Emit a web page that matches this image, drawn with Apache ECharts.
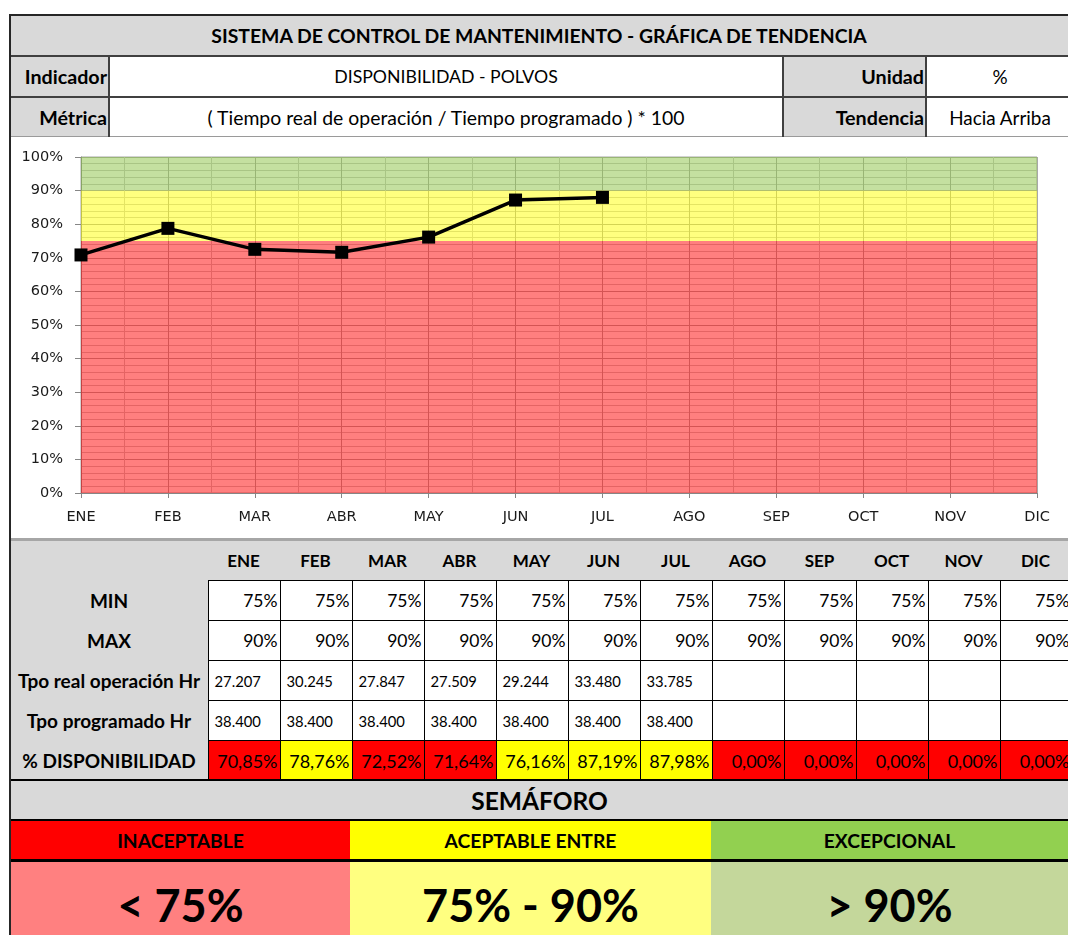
<!DOCTYPE html>
<html><head><meta charset="utf-8">
<script src="https://cdn.jsdelivr.net/npm/echarts@6/dist/echarts.min.js"></script>
<style>
body{margin:0;background:#fff;}
#page{position:relative;width:1068px;height:935px;overflow:hidden;background:#fff;font-family:Lato,'Liberation Sans',sans-serif;color:#000;}
.c{position:absolute;box-sizing:border-box;display:flex;align-items:center;white-space:nowrap;overflow:hidden;}
</style></head><body><div id="page"><div id="chart" style="position:absolute;left:0;top:137px;width:1068px;height:403px;"></div></div>
<script>
// ---- data ----
const months = ['ENE','FEB','MAR','ABR','MAY','JUN','JUL','AGO','SEP','OCT','NOV','DIC'];
const minPct = [75,75,75,75,75,75,75,75,75,75,75,75];
const maxPct = [90,90,90,90,90,90,90,90,90,90,90,90];
const tpoReal = [27207,30245,27847,27509,29244,33480,33785,null,null,null,null,null];
const tpoProg = [38400,38400,38400,38400,38400,38400,38400,null,null,null,null,null];
const disponibilidad = [70.85,78.76,72.52,71.64,76.16,87.19,87.98,0,0,0,0,0];
const yTickLabels = ['0%','10%','20%','30%','40%','50%','60%','70%','80%','90%','100%'];
const headerTexts = {
  title:'SISTEMA DE CONTROL DE MANTENIMIENTO - GRÁFICA DE TENDENCIA',
  indicadorLbl:'Indicador', indicador:'DISPONIBILIDAD - POLVOS',
  unidadLbl:'Unidad', unidad:'%',
  metricaLbl:'Métrica', metrica:'( Tiempo real de operación / Tiempo programado ) * 100',
  tendenciaLbl:'Tendencia', tendencia:'Hacia Arriba'
};
const rowLabels = ['MIN','MAX','Tpo real operación Hr','Tpo programado Hr','% DISPONIBILIDAD'];
const semaforoTitle = 'SEMÁFORO';
const semaforoNames = ['INACEPTABLE','ACEPTABLE ENTRE','EXCEPCIONAL'];
const semaforoRanges = ['< 75%','75% - 90%','> 90%'];

// ---- helpers ----
const page = document.getElementById('page');
function box(x,y,w,h,st,text){
  const d=document.createElement('div');d.className='c';
  Object.assign(d.style,{left:x+'px',top:y+'px',width:w+'px',height:h+'px'},st||{});
  if(text!==undefined&&text!==null) d.textContent=text;
  page.appendChild(d);return d;
}
function hl(x,y,w,t,col){box(x,y,w,t,{background:col});}
function vl(x,y,h,t,col){box(x,y,t,h,{background:col});}
const GRAY='#d9d9d9';
const fmtThousands = v => v==null?'':String(v).replace(/\B(?=(\d{3})+(?!\d))/g,'.');
const fmtPct = v => v.toFixed(2).replace('.',',')+'%';
function dispColor(v,lo,hi){return v<lo?'#ff0000':(v<=hi?'#ffff00':'#92d050');}

// ---- header block ----
box(10,15,1058,41,{background:GRAY,justifyContent:'center',fontWeight:'700',fontSize:'19.4px'},headerTexts.title);
const r2=[56,41],r3=[97,40];
[[r2,headerTexts.indicadorLbl,headerTexts.indicador,'17.7px',headerTexts.unidadLbl,headerTexts.unidad],
 [r3,headerTexts.metricaLbl,headerTexts.metrica,'19.4px',headerTexts.tendenciaLbl,headerTexts.tendencia]].forEach(([r,a,b,bs,c,d])=>{
  box(10,r[0],99,r[1],{background:GRAY,justifyContent:'flex-end',fontWeight:'700',fontSize:'19.7px',paddingRight:'2px'},a);
  box(109,r[0],674,r[1],{background:'#fff',justifyContent:'center',fontSize:bs},b);
  box(783,r[0],143,r[1],{background:GRAY,justifyContent:'flex-end',fontWeight:'700',fontSize:'19.7px',paddingRight:'2px'},c);
  box(926,r[0],142,r[1],{background:'#fff',justifyContent:'center',fontSize:'18.9px',paddingLeft:'6px'},d);
});
hl(9,14,1059,2,'#262626');
hl(9,55,1059,2,'#404040');
hl(9,96,1059,2,'#404040');
hl(9,136,1059,1,'#9a9a9a');
[108,782,925].forEach(x=>vl(x,56,81,2,'#404040'));

// ---- chart region bottom line ----
hl(9,538,1059,3,'#a6a6a6');

// ---- data table ----
const colX0=207.5, colW=72;
box(11,541,1057,239,{background:GRAY});
months.forEach((m,i)=>box(colX0+i*colW,541,colW,39,{justifyContent:'center',fontWeight:'700',fontSize:'17px'},m));
const rowY=[580,620,660,700,740];
rowLabels.forEach((l,j)=>box(11,rowY[j],196,40,{justifyContent:'center',fontWeight:'700',fontSize:'19px'},l));
months.forEach((m,i)=>{
  const x=colX0+i*colW;
  const cells=[
    {t:minPct[i]+'%',bg:'#fff',al:'flex-end',fs:'17.5px'},
    {t:maxPct[i]+'%',bg:'#fff',al:'flex-end',fs:'17.5px'},
    {t:fmtThousands(tpoReal[i]),bg:'#fff',al:'flex-start',fs:'14.8px'},
    {t:fmtThousands(tpoProg[i]),bg:'#fff',al:'flex-start',fs:'14.8px'},
    {t:fmtPct(disponibilidad[i]),bg:dispColor(disponibilidad[i],minPct[i],maxPct[i]),al:'flex-end',fs:'18px'}
  ];
  cells.forEach((c,j)=>box(x,rowY[j],colW+1,41,{background:c.bg,justifyContent:c.al,fontSize:c.fs,border:'1px solid #000',paddingRight:'2px',paddingLeft:'6px'},c.t));
});
hl(11,779,1057,2,'#000');

// ---- semaforo ----
box(11,781,1057,39,{background:GRAY,justifyContent:'center',fontWeight:'700',fontSize:'24.5px'},semaforoTitle);
hl(11,819,1057,2,'#000');
const semX=[11,350,711,1068];
const semTop=['#ff0000','#ffff00','#92d050'];
const semBot=['#ff8080','#ffff80','#c4d79b'];
semaforoNames.forEach((n,k)=>{
  box(semX[k],821,semX[k+1]-semX[k],38,{background:semTop[k],justifyContent:'center',fontWeight:'700',fontSize:'19.3px'},n);
  box(semX[k],862,semX[k+1]-semX[k],86,{background:semBot[k],justifyContent:'center',fontWeight:'700',fontSize:'45px'},semaforoRanges[k]);
});
hl(11,859,1057,3,'#000');

// left page border
vl(9,14,921,2,'#262626');

// ---- chart ----
const chart = echarts.init(document.getElementById('chart'),null,{renderer:'canvas'});
const lineData = months.map((m,i)=>tpoReal[i]==null?null:[i,disponibilidad[i]]).filter(d=>d);
const lo=minPct[0], hi=maxPct[0];
chart.setOption({
  animation:false,
  backgroundColor:'transparent',
  grid:{left:81,right:31,top:20,bottom:47,show:true,borderColor:'#a6a6a6',borderWidth:1,backgroundColor:'transparent'},
  xAxis:{type:'value',min:0,max:months.length-1,interval:1,
    axisLine:{show:true,lineStyle:{color:'#868686',width:1}},
    axisTick:{show:true,length:5,lineStyle:{color:'#868686'}},
    minorTick:{show:false,splitNumber:2},
    axisLabel:{margin:17,color:'#1a1a1a',fontFamily:'DejaVu Sans',fontSize:14.5,formatter:v=>months[v]||''},
    splitLine:{show:true,lineStyle:{color:'#a8a8a8',width:1}},
    minorSplitLine:{show:true,lineStyle:{color:'#c8c8c8',width:1}}},
  yAxis:{type:'value',min:0,max:100,interval:10,
    axisLine:{show:true,lineStyle:{color:'#868686',width:1}},
    axisTick:{show:true,length:6,lineStyle:{color:'#868686'}},
    minorTick:{show:false,splitNumber:5},
    axisLabel:{margin:18,color:'#1a1a1a',fontFamily:'DejaVu Sans',fontSize:14.5,formatter:v=>yTickLabels[Math.round(v/10)]},
    splitLine:{show:true,lineStyle:{color:'#a8a8a8',width:1}},
    minorSplitLine:{show:true,lineStyle:{color:'#c8c8c8',width:1}}},
  series:[
    {type:'line',data:[],z:1,silent:true,
     markArea:{silent:true,data:[
       [{yAxis:0,itemStyle:{color:'rgba(255,0,0,0.5)'}},{yAxis:lo}],
       [{yAxis:lo,itemStyle:{color:'rgba(255,255,0,0.5)'}},{yAxis:hi}],
       [{yAxis:hi,itemStyle:{color:'rgba(137,193,65,0.5)'}},{yAxis:100}]
     ]}},
    {type:'line',data:lineData,z:5,symbol:'rect',symbolSize:13,
     lineStyle:{color:'#000',width:3.5},itemStyle:{color:'#000'}}
  ]
});
</script></body></html>
